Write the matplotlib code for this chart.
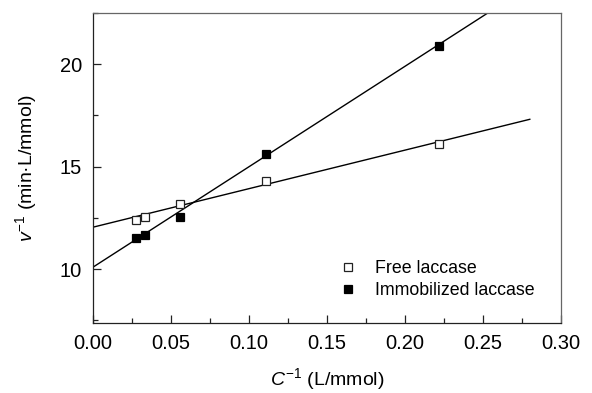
import numpy as np
import matplotlib
matplotlib.use("Agg")
import matplotlib.pyplot as plt
from matplotlib.ticker import MultipleLocator, FormatStrFormatter

plt.rcParams['font.family'] = ['Liberation Sans', 'DejaVu Sans']
plt.rcParams['mathtext.fontset'] = 'custom'
plt.rcParams['mathtext.rm'] = 'Liberation Sans'
plt.rcParams['mathtext.it'] = 'Liberation Sans:italic'

# Lineweaver-Burk data
inv_conc = [0.0278, 0.0333, 0.0556, 0.111, 0.222]
free_inv_rate = [12.4, 12.55, 13.2, 14.3, 16.1]
immob_inv_rate = [11.5, 11.65, 12.55, 15.6, 20.9]

# linear fits (slope, intercept)
free_fit = (18.8, 12.05)
immob_fit = (49.0, 10.1)
fit_range = [0.0, 0.28]

fig = plt.figure(figsize=(5.92, 3.93), dpi=100)
ax = fig.add_axes([93/592, 1 - 322.5/393, (561-93)/592, (322.5-13)/393])

xs = np.array(fit_range)
ax.plot(xs, free_fit[0]*xs + free_fit[1], color='black', lw=1.0, zorder=2)
ax.plot(xs, immob_fit[0]*xs + immob_fit[1], color='black', lw=1.0, zorder=2)

ax.plot(inv_conc, free_inv_rate, ls='none', marker='s', ms=6.0, mfc='white',
        mec='#222222', mew=0.9, label='Free laccase', zorder=3)
ax.plot(inv_conc, immob_inv_rate, ls='none', marker='s', ms=6.0, mfc='black',
        mec='black', mew=0.9, label='Immobilized laccase', zorder=3)

ax.set_xlim(0, 0.30)
ax.set_ylim(7.4, 22.5)
ax.xaxis.set_major_locator(MultipleLocator(0.05))
ax.xaxis.set_minor_locator(MultipleLocator(0.025))
ax.yaxis.set_major_locator(MultipleLocator(5))
ax.yaxis.set_minor_locator(MultipleLocator(2.5))
ax.xaxis.set_major_formatter(FormatStrFormatter('%.2f'))
ax.tick_params(which='both', direction='in', top=False, right=False,
               labelsize=14.5, width=0.9, color='#222222')
ax.tick_params(which='major', length=6)
ax.tick_params(which='minor', length=3.5)
ax.tick_params(axis='x', which='major', pad=8)
ax.tick_params(axis='y', which='major', pad=8)
for s in ax.spines.values():
    s.set_linewidth(0.9)
    s.set_color('#222222')
ax.spines['top'].set_color('#666666')
ax.spines['right'].set_color('#666666')

ax.set_xlabel(r'$\mathit{C}^{-1}$ (L/mmol)', fontsize=14, labelpad=10)
ax.set_ylabel(r'$\mathit{v}^{-1}$ (min·L/mmol)', fontsize=14, labelpad=15)

ax.legend(loc='lower right', bbox_to_anchor=(0.978, 0.025), frameon=False,
          fontsize=12.8, handlelength=1.0, handletextpad=1.0, labelspacing=0.25,
          markerscale=0.9)

fig.savefig('out.png', dpi=100)
